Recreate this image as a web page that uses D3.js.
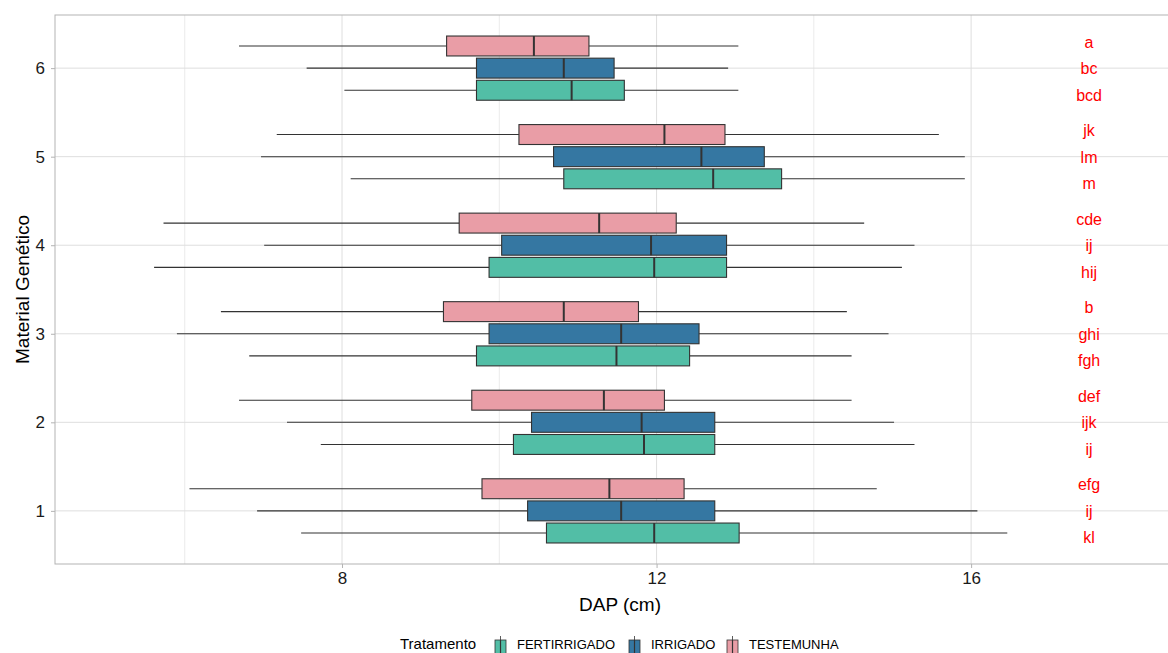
<!DOCTYPE html>
<html>
<head>
<meta charset="utf-8">
<script src="https://cdn.jsdelivr.net/npm/d3@7"></script>
<style>
    body { margin: 0; background: #fff; }
    svg { display: block; font-family: 'Liberation Sans', Arial, sans-serif; }
</style>
</head>
<body>
<div id="chart"></div>
<script>
// categories
const groups = [1, 2, 3, 4, 5, 6];
const treatments = ['FERTIRRIGADO', 'IRRIGADO', 'TESTEMUNHA'];

// [lower whisker, Q1, median, Q3, upper whisker] per genetic material 1..6
const fertStats = [
    [7.48, 10.6, 11.97, 13.05, 16.46],
    [7.73, 10.18, 11.84, 12.74, 15.28],
    [6.82, 9.71, 11.49, 12.42, 14.48],
    [5.61, 9.87, 11.97, 12.89, 15.12],
    [8.11, 10.82, 12.72, 13.59, 15.92],
    [8.03, 9.71, 10.92, 11.59, 13.04],
];
const irrigStats = [
    [6.92, 10.36, 11.55, 12.74, 16.08],
    [7.3, 10.41, 11.81, 12.74, 15.02],
    [5.9, 9.87, 11.55, 12.54, 14.95],
    [7.01, 10.03, 11.93, 12.89, 15.28],
    [6.97, 10.69, 12.57, 13.37, 15.92],
    [7.55, 9.71, 10.82, 11.46, 12.91],
];
const testStats = [
    [6.06, 9.78, 11.4, 12.35, 14.8],
    [6.69, 9.65, 11.33, 12.1, 14.48],
    [6.46, 9.29, 10.82, 11.77, 14.42],
    [5.73, 9.49, 11.27, 12.25, 14.64],
    [7.17, 10.25, 12.1, 12.87, 15.59],
    [6.69, 9.33, 10.44, 11.14, 13.04],
];

// significance letters per genetic material 1..6
const fertLetters = ['kl', 'ij', 'fgh', 'hij', 'm', 'bcd'];
const irrigLetters = ['ij', 'ijk', 'ghi', 'ij', 'lm', 'bc'];
const testLetters = ['efg', 'def', 'b', 'cde', 'jk', 'a'];
const letterX = 17.5;

// axis ticks
const xMajor = [8, 12, 16];
const xMinor = [6, 10, 14];

const statsByTreatment = [fertStats, irrigStats, testStats];
const lettersByTreatment = [fertLetters, irrigLetters, testLetters];
const colors = ['#52bea6', '#3577a2', '#e99da6'];

class BoxVis {
    constructor(parentElement) {
        this.parentElement = parentElement;
        this.initVis();
    }

    initVis() {
        let vis = this;

        const width = 1168;
        const height = 653;

        // panel runs past the right edge, as in the cropped original
        vis.margin = { top: 15, right: -17, bottom: 89, left: 55 };
        vis.width = width - vis.margin.left - vis.margin.right;
        vis.height = height - vis.margin.top - vis.margin.bottom;

        vis.svg = d3.select('#' + vis.parentElement).append('svg').attr('width', width).attr('height', height);

        vis.x = d3.scaleLinear().domain([4.35, 18.72]).range([0, vis.width]);
        vis.y = d3.scaleLinear().domain([0.4, 6.6]).range([vis.height, 0]);

        vis.g = vis.svg.append('g').attr('transform', `translate(${vis.margin.left}, ${vis.margin.top})`);

        // grid
        vis.g.selectAll('.minor').data(xMinor).enter().append('line')
            .attr('x1', (d) => vis.x(d)).attr('x2', (d) => vis.x(d))
            .attr('y1', 0).attr('y2', vis.height)
            .attr('stroke', '#ebebeb').attr('stroke-width', 1);

        vis.g.selectAll('.majorx').data(xMajor).enter().append('line')
            .attr('x1', (d) => vis.x(d)).attr('x2', (d) => vis.x(d))
            .attr('y1', 0).attr('y2', vis.height)
            .attr('stroke', '#dedede').attr('stroke-width', 1);

        vis.g.selectAll('.majory').data(groups).enter().append('line')
            .attr('x1', 0).attr('x2', vis.width)
            .attr('y1', (d) => vis.y(d)).attr('y2', (d) => vis.y(d))
            .attr('stroke', '#dedede').attr('stroke-width', 1);

        // axes
        let xAxis = d3.axisBottom(vis.x).tickValues(xMajor).tickSize(4).tickPadding(4);
        let yAxis = d3.axisLeft(vis.y).tickValues(groups).tickFormat(d3.format('d')).tickSize(4).tickPadding(6);

        let gx = vis.g.append('g').attr('transform', `translate(0, ${vis.height})`).call(xAxis);
        let gy = vis.g.append('g').call(yAxis);
        [gx, gy].forEach((a) => {
            a.select('.domain').remove();
            a.selectAll('line').attr('stroke', '#b3b3b3');
            a.selectAll('text').attr('fill', '#1a1a1a').style('font-size', '17px').style('font-family', "'Liberation Sans', Arial, sans-serif");
        });

        // boxes
        vis.drawBoxes();

        // panel border
        vis.g.append('rect')
            .attr('width', vis.width).attr('height', vis.height)
            .attr('fill', 'none').attr('stroke', '#b3b3b3').attr('stroke-width', 1);

        // axis titles
        vis.svg.append('text')
            .attr('x', 620).attr('y', 611)
            .attr('text-anchor', 'middle')
            .style('font-size', '19px').attr('fill', '#000')
            .text('DAP (cm)');

        vis.svg.append('text')
            .attr('transform', `translate(29, ${vis.margin.top + vis.height / 2}) rotate(-90)`)
            .attr('text-anchor', 'middle')
            .style('font-size', '19px').attr('fill', '#000')
            .text('Material Genético');

        vis.drawLegend();
    }

    drawBoxes() {
        let vis = this;

        const boxOffset = [-0.25, 0, 0.25];
        const letterOffset = [-0.3, 0, 0.3];
        const half = (vis.y(0) - vis.y(0.225)) / 2;

        treatments.forEach((t, ti) => {
            let rows = statsByTreatment[ti].map((s, i) => ({ g: groups[i], s: s }));
            let tg = vis.g.append('g').attr('class', 'box-' + t);

            rows.forEach((d) => {
                let cy = vis.y(d.g + boxOffset[ti]);
                let s = d.s;

                tg.append('line')
                    .attr('x1', vis.x(s[0])).attr('x2', vis.x(s[1]))
                    .attr('y1', cy).attr('y2', cy)
                    .attr('stroke', '#333').attr('stroke-width', 1.1);
                tg.append('line')
                    .attr('x1', vis.x(s[3])).attr('x2', vis.x(s[4]))
                    .attr('y1', cy).attr('y2', cy)
                    .attr('stroke', '#333').attr('stroke-width', 1.1);
                tg.append('rect')
                    .attr('x', vis.x(s[1])).attr('y', cy - half)
                    .attr('width', vis.x(s[3]) - vis.x(s[1])).attr('height', half * 2)
                    .attr('fill', colors[ti]).attr('stroke', '#333').attr('stroke-width', 1.1);
                tg.append('line')
                    .attr('x1', vis.x(s[2])).attr('x2', vis.x(s[2]))
                    .attr('y1', cy - half).attr('y2', cy + half)
                    .attr('stroke', '#333').attr('stroke-width', 2);
            });

            // letters
            tg.selectAll('.letter').data(lettersByTreatment[ti]).enter().append('text')
                .attr('x', vis.x(letterX))
                .attr('y', (d, i) => vis.y(groups[i] + letterOffset[ti]) + 6)
                .attr('text-anchor', 'middle')
                .attr('fill', '#ff0000')
                .style('font-size', '16px')
                .text((d) => d);
        });
    }

    drawLegend() {
        let vis = this;
        let leg = vis.svg.append('g').style('font-size', '13px');
        const baseY = 649;

        leg.append('text').attr('x', 400).attr('y', baseY).attr('fill', '#000').style('font-size', '15px').text('Tratamento');

        const keyX = [495, 629, 727];
        treatments.forEach((t, i) => {
            let kx = keyX[i];
            leg.append('line').attr('x1', kx + 5.5).attr('x2', kx + 5.5).attr('y1', 636).attr('y2', 660)
                .attr('stroke', '#333').attr('stroke-width', 0.8);
            leg.append('rect').attr('x', kx).attr('y', 640).attr('width', 11).attr('height', 20)
                .attr('fill', colors[i]).attr('stroke', '#333').attr('stroke-width', 0.8);
            leg.append('line').attr('x1', kx + 5.5).attr('x2', kx + 5.5).attr('y1', 640).attr('y2', 660)
                .attr('stroke', '#333').attr('stroke-width', 1.2);
            leg.append('text').attr('x', kx + 22).attr('y', baseY).attr('fill', '#000').text(t);
        });
    }
}

new BoxVis('chart');
</script>
</body>
</html>
